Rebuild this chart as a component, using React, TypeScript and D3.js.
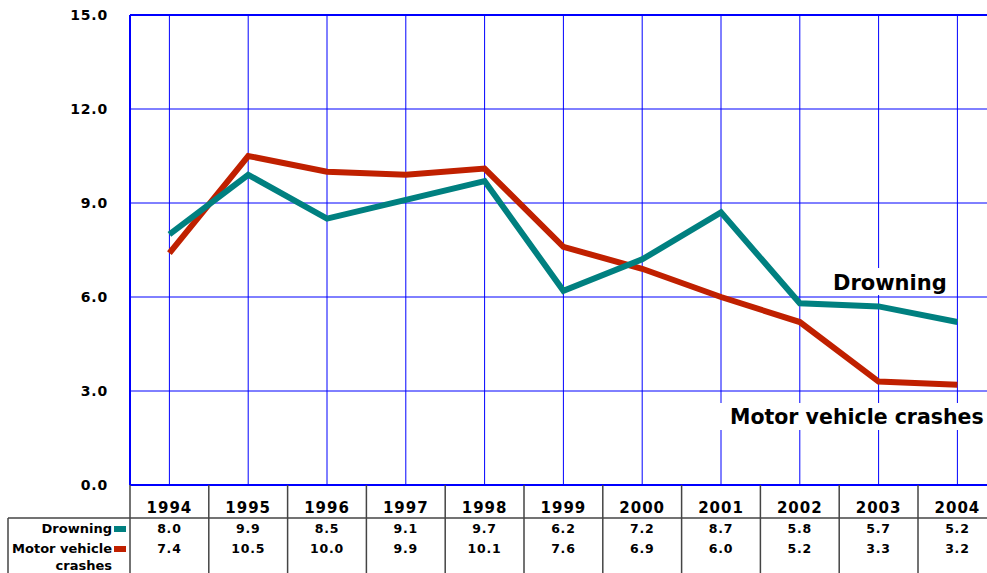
import React, { useEffect, useRef } from "react";
import * as d3 from "d3";

const years = ["1994", "1995", "1996", "1997", "1998", "1999", "2000", "2001", "2002", "2003", "2004"];
const drowning = [8.0, 9.9, 8.5, 9.1, 9.7, 6.2, 7.2, 8.7, 5.8, 5.7, 5.2];
const motorVehicle = [7.4, 10.5, 10.0, 9.9, 10.1, 7.6, 6.9, 6.0, 5.2, 3.3, 3.2];
const yTicks = [0, 3, 6, 9, 12, 15];

const W = 987;
const H = 573;
const FONT = "'DejaVu Sans', Verdana, sans-serif";

function App() {
  const ref = useRef<SVGSVGElement>(null);

  useEffect(() => {
    const svg = d3.select(ref.current);
    svg.selectAll("*").remove();

    const left = 130;
    const bandW = 78.8;
    const top = 15;
    const bottom = 485;

    const x = d3
      .scaleBand()
      .domain(years)
      .range([left, left + bandW * years.length])
      .padding(0);
    const cx = (yr: string) => (x(yr) as number) + x.bandwidth() / 2;

    const y = d3.scaleLinear().domain([0, 15]).range([bottom, top]);

    const grid = svg.append("g");
    // horizontal gridlines
    grid
      .selectAll(".h")
      .data(yTicks.filter((t) => t > 0 && t < 15))
      .enter()
      .append("line")
      .attr("x1", left)
      .attr("x2", W)
      .attr("y1", (d) => y(d))
      .attr("y2", (d) => y(d))
      .attr("stroke", "#0000ff")
      .attr("stroke-width", 1);
    // vertical gridlines at category centers
    grid
      .selectAll(".v")
      .data(years)
      .enter()
      .append("line")
      .attr("x1", (d) => cx(d))
      .attr("x2", (d) => cx(d))
      .attr("y1", top)
      .attr("y2", bottom)
      .attr("stroke", "#0000ff")
      .attr("stroke-width", 1);

    // frame
    grid
      .append("line")
      .attr("x1", left)
      .attr("x2", W)
      .attr("y1", top)
      .attr("y2", top)
      .attr("stroke", "#0000ff")
      .attr("stroke-width", 2);
    grid
      .append("line")
      .attr("x1", left)
      .attr("x2", W)
      .attr("y1", bottom)
      .attr("y2", bottom)
      .attr("stroke", "#0000ff")
      .attr("stroke-width", 2);
    grid
      .append("line")
      .attr("x1", left)
      .attr("x2", left)
      .attr("y1", top)
      .attr("y2", bottom)
      .attr("stroke", "#0000ff")
      .attr("stroke-width", 2);

    // y tick labels
    svg
      .append("g")
      .selectAll("text")
      .data(yTicks)
      .enter()
      .append("text")
      .attr("x", 108)
      .attr("y", (d) => y(d) + 5)
      .attr("text-anchor", "end")
      .attr("font-family", FONT)
      .attr("font-weight", "bold")
      .attr("font-size", 14)
      .attr("letter-spacing", 0.8)
      .text((d) => d.toFixed(1));

    // series labels with white backing
    svg.append("rect").attr("x", 826).attr("y", 268).attr("width", 128).attr("height", 27).attr("fill", "#fff");
    svg
      .append("text")
      .attr("x", 833)
      .attr("y", 290)
      .attr("font-family", FONT)
      .attr("font-weight", "bold")
      .attr("font-size", 21)
      .text("Drowning");
    svg.append("rect").attr("x", 716).attr("y", 403).attr("width", 280).attr("height", 27).attr("fill", "#fff");
    svg
      .append("text")
      .attr("x", 730)
      .attr("y", 424)
      .attr("font-family", FONT)
      .attr("font-weight", "bold")
      .attr("font-size", 20.5)
      .text("Motor vehicle crashes");

    const line = d3
      .line<number>()
      .x((d, i) => cx(years[i]))
      .y((d) => y(d))
      .curve(d3.curveLinear);

    svg
      .append("path")
      .attr("d", line(motorVehicle))
      .attr("fill", "none")
      .attr("stroke", "#c02000")
      .attr("stroke-width", 6)
      .attr("stroke-linejoin", "miter");
    svg
      .append("path")
      .attr("d", line(drowning))
      .attr("fill", "none")
      .attr("stroke", "#008080")
      .attr("stroke-width", 6)
      .attr("stroke-linejoin", "miter");

    // data table
    const table = svg.append("g");
    const tableLeft = 8;
    const rowSep = 518;
    const lineColor = "#444";
    table
      .append("line")
      .attr("x1", tableLeft)
      .attr("x2", W)
      .attr("y1", rowSep)
      .attr("y2", rowSep)
      .attr("stroke", lineColor)
      .attr("stroke-width", 1.5);
    table
      .append("line")
      .attr("x1", tableLeft)
      .attr("x2", tableLeft)
      .attr("y1", rowSep)
      .attr("y2", H)
      .attr("stroke", lineColor)
      .attr("stroke-width", 1.5);
    table
      .selectAll(".sep")
      .data(years)
      .enter()
      .append("line")
      .attr("x1", (d) => x(d) as number)
      .attr("x2", (d) => x(d) as number)
      .attr("y1", bottom)
      .attr("y2", H)
      .attr("stroke", lineColor)
      .attr("stroke-width", 1.5);

    table
      .selectAll(".yr")
      .data(years)
      .enter()
      .append("text")
      .attr("x", (d) => cx(d))
      .attr("y", 513)
      .attr("text-anchor", "middle")
      .attr("font-family", FONT)
      .attr("font-weight", "bold")
      .attr("font-size", 15)
      .attr("letter-spacing", 1)
      .text((d) => d);

    const rows = [
      { vals: drowning, y: 533 },
      { vals: motorVehicle, y: 553 },
    ];
    rows.forEach((r) => {
      table
        .append("g")
        .selectAll("text")
        .data(r.vals)
        .enter()
        .append("text")
        .attr("x", (d, i) => cx(years[i]))
        .attr("y", r.y)
        .attr("text-anchor", "middle")
        .attr("font-family", FONT)
        .attr("font-weight", "bold")
        .attr("font-size", 12.5)
        .attr("letter-spacing", 0.8)
        .text((d) => d.toFixed(1));
    });

    const labelStyle = (t: d3.Selection<SVGTextElement, unknown, null, undefined>) =>
      t.attr("font-family", FONT).attr("font-weight", "bold").attr("font-size", 13).attr("text-anchor", "end");
    table.append("text").attr("x", 112).attr("y", 533).call(labelStyle).text("Drowning");
    table.append("text").attr("x", 112).attr("y", 553).call(labelStyle).text("Motor vehicle");
    table.append("text").attr("x", 112).attr("y", 570).call(labelStyle).text("crashes");
    table.append("rect").attr("x", 114).attr("y", 526).attr("width", 12).attr("height", 6).attr("fill", "#008080");
    table.append("rect").attr("x", 114).attr("y", 546).attr("width", 12).attr("height", 6).attr("fill", "#c02000");
  }, []);

  return (
    <div style={{ position: "absolute", left: 0, top: 0 }}>
      <svg ref={ref} width={W} height={H} style={{ display: "block", background: "#fff" }} />
    </div>
  );
}

export default App;
